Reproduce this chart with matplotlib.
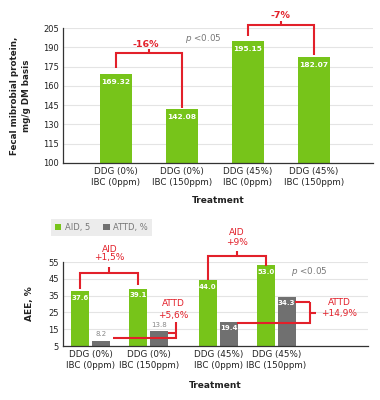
import numpy as np
import matplotlib
matplotlib.use("Agg")
import matplotlib.pyplot as plt

plt.rcParams['font.family'] = ['DejaVu Sans']

# data
categories = ["DDG (0%)\nIBC (0ppm)", "DDG (0%)\nIBC (150ppm)",
              "DDG (45%)\nIBC (0ppm)", "DDG (45%)\nIBC (150ppm)"]
protein = [169.32, 142.08, 195.15, 182.07]
aid = [37.6, 39.1, 44.0, 53.0]
attd = [8.2, 13.8, 19.4, 34.3]

GREEN = "#77c41a"
GRAY = "#707070"
RED = "#e2202a"
GRID = "#e4e4e4"
TXT = "#222222"

fig = plt.figure(figsize=(3.8, 4.0), dpi=100)


def style_axes(ax):
    for s in ["top", "right"]:
        ax.spines[s].set_visible(False)
    ax.spines["left"].set_color("#333333")
    ax.spines["bottom"].set_color("#333333")
    ax.spines["left"].set_linewidth(0.9)
    ax.spines["bottom"].set_linewidth(0.9)
    ax.tick_params(axis="both", length=0, labelsize=6, colors=TXT, pad=3)
    ax.yaxis.grid(True, color=GRID, lw=0.8)
    ax.set_axisbelow(True)


def red_line(ax, xs, ys):
    ax.plot(xs, ys, color=RED, lw=1.5, clip_on=False, solid_capstyle="butt",
            solid_joinstyle="miter")


# ---------------- top chart ----------------
ax1 = fig.add_axes([0.166, 0.5925, 0.816, 0.3375])
style_axes(ax1)
x1 = np.arange(len(categories))
ax1.bar(x1, protein, width=0.48, color=GREEN, zorder=2)
ax1.set_ylim(100, 205)
ax1.set_yticks(np.arange(100, 206, 15))
ax1.set_xlim(-0.8, 3.9)
ax1.set_xticks(x1)
ax1.set_xticklabels(categories, fontsize=6.3, linespacing=1.3)
ax1.set_ylabel("Fecal mibrobial protein,\nmg/g DM basis", fontsize=6.3,
               fontweight="bold", color=TXT, labelpad=9, linespacing=1.4)
ax1.set_xlabel("Treatment", fontsize=6.5, fontweight="bold", color=TXT, labelpad=6)
for xi, v in zip(x1, protein):
    ax1.annotate(f"{v:.2f}", (xi, v), xytext=(0, -3.5), textcoords="offset points",
                 ha="center", va="top", color="white", fontsize=5.4,
                 fontweight="bold", zorder=3)

# brackets
h = 185.5
red_line(ax1, [0, 0, 1, 1], [protein[0] + 4.5, h, h, protein[1] + 0.8])
red_line(ax1, [0.5, 0.5], [h, h + 3.3])
ax1.text(0.45, h + 6.5, "-16%", ha="center", va="center", color=RED,
         fontsize=6.8, fontweight="bold")
h = 207.3
red_line(ax1, [2, 2, 3, 3], [protein[2] + 3.6, h, h, protein[3] + 2])
red_line(ax1, [2.5, 2.5], [h, h + 3.3])
ax1.text(2.5, h + 7.5, "-7%", ha="center", va="center", color=RED,
         fontsize=6.8, fontweight="bold", clip_on=False)
ax1.text(1.32, 197, "$p$ <0.05", ha="center", va="center", color="#777777",
         fontsize=6.3)

# ---------------- bottom chart ----------------
ax2 = fig.add_axes([0.166, 0.135, 0.802, 0.21])
style_axes(ax2)
x2 = np.array([0, 1, 2.2, 3.2])
off = 0.18
bw = 0.31
ax2.bar(x2 - off, aid, width=bw, color=GREEN, zorder=2, label="AID, 5")
ax2.bar(x2 + off, attd, width=bw, color=GRAY, zorder=2, label="ATTD, %")
ax2.set_ylim(5, 55)
ax2.set_yticks(np.arange(5, 56, 10))
ax2.set_xlim(-0.48, 4.78)
ax2.set_xticks(x2)
ax2.set_xticklabels(categories, fontsize=6.3, linespacing=1.3)
ax2.set_ylabel("AEE, %", fontsize=6.5, fontweight="bold", color=TXT, labelpad=10)
ax2.set_xlabel("Treatment", fontsize=6.5, fontweight="bold", color=TXT, labelpad=8)

for xi, v in zip(x2 - off, aid):
    ax2.annotate(f"{v:.1f}", (xi, v), xytext=(0, -2.5), textcoords="offset points",
                 ha="center", va="top", color="white", fontsize=5,
                 fontweight="bold", zorder=3)
for xi, v in zip(x2 + off, attd):
    inside = v > 16
    ax2.annotate(f"{v:.1f}", (xi, v),
                 xytext=(0, -2.5 if inside else 2.5), textcoords="offset points",
                 ha="center", va="top" if inside else "bottom",
                 color="white" if inside else "#888888", fontsize=5,
                 fontweight="bold" if inside else "normal", zorder=3)

# AID brackets
h = 48.6
red_line(ax2, [x2[0] - off, x2[0] - off, x2[1] - off, x2[1] - off],
         [aid[0] + 1.4, h, h, aid[1] + 2.2])
cx = (x2[0] + x2[1]) / 2 - off
red_line(ax2, [cx, cx], [h, h + 3.6])
ax2.text(cx, 62.7, "AID", ha="center", va="center", color=RED, fontsize=6.5)
ax2.text(cx, 57.4, "+1,5%", ha="center", va="center", color=RED, fontsize=6.5)

h = 58.6
red_line(ax2, [x2[2] - off, x2[2] - off, x2[3] - off, x2[3] - off],
         [aid[2] + 0.3, h, h, aid[3] - 0.4])
cx = (x2[2] + x2[3]) / 2 - off
red_line(ax2, [cx, cx], [h, h + 3.1])
ax2.text(cx, 72.4, "AID", ha="center", va="center", color=RED, fontsize=6.5)
ax2.text(cx, 66.5, "+9%", ha="center", va="center", color=RED, fontsize=6.5)

# ATTD brackets
xr = 1.47
red_line(ax2, [0.38, xr, xr], [attd[0] + 1.3, attd[0] + 1.3, 19.3])
red_line(ax2, [x2[1] + off + bw / 2, xr], [attd[1] - 1.1, attd[1] - 1.1])
ax2.text(1.43, 30, "ATTD", ha="center", va="center", color=RED, fontsize=6.5)
ax2.text(1.43, 23.4, "+5,6%", ha="center", va="center", color=RED, fontsize=6.5)

xr = 3.78
red_line(ax2, [2.53, xr, xr], [attd[2] - 0.7, attd[2] - 0.7, attd[3] - 3.1])
red_line(ax2, [x2[3] + off + bw / 2 - 0.02, xr], [attd[3] - 3.1, attd[3] - 3.1])
red_line(ax2, [xr, 3.88], [24.6, 24.6])
ax2.text(4.29, 30.6, "ATTD", ha="center", va="center", color=RED, fontsize=6.5)
ax2.text(4.29, 24.6, "+14,9%", ha="center", va="center", color=RED, fontsize=6.5)

ax2.text(3.76, 49.2, "$p$ <0.05", ha="center", va="center", color="#777777",
         fontsize=6.3)

leg = ax2.legend(loc="upper left", bbox_to_anchor=(-0.04, 1.51), ncol=2,
                 fontsize=6, frameon=True, fancybox=False, handlelength=0.8,
                 handleheight=0.8, handletextpad=0.4, columnspacing=1.6,
                 borderpad=0.45, borderaxespad=0)
leg.get_frame().set_facecolor("#e8e8e8")
leg.get_frame().set_edgecolor("none")
for t in leg.get_texts():
    t.set_color("#777777")

fig.savefig("out.png", dpi=100)
